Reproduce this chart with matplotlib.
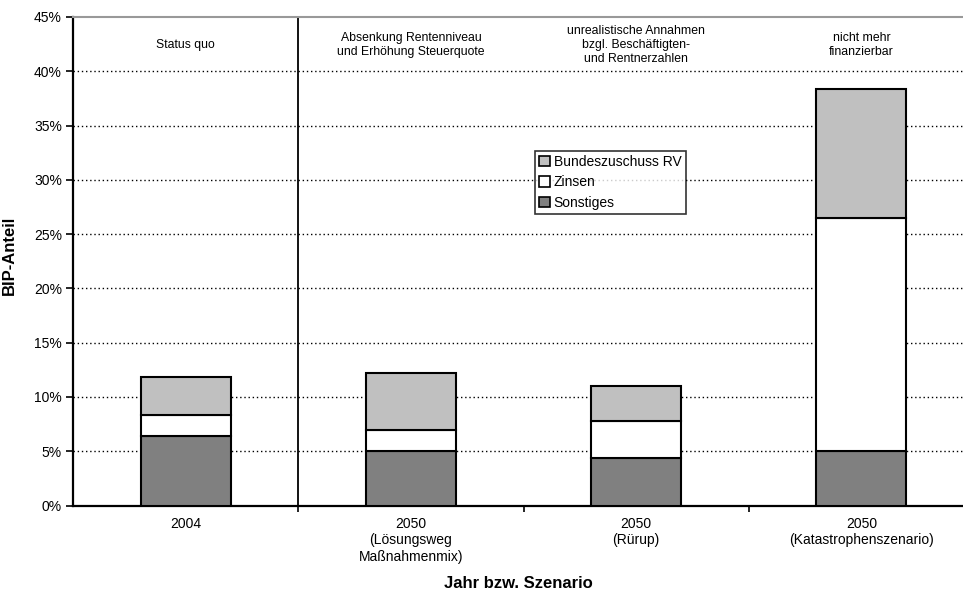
import matplotlib
matplotlib.use("Agg")
import matplotlib.pyplot as plt
from matplotlib.patches import Patch
from matplotlib.ticker import FuncFormatter, MultipleLocator

plt.rcParams['font.family'] = ['Liberation Sans', 'DejaVu Sans']

# Data (share of GDP, %)
categories = ["2004", "2050\n(Lösungsweg\nMaßnahmenmix)", "2050\n(Rürup)", "2050\n(Katastrophenszenario)"]
sonstiges = [6.4, 5.0, 4.4, 5.0]
zinsen = [1.9, 2.0, 3.35, 21.5]
bundeszuschuss = [3.5, 5.2, 3.3, 11.9]
scenario_notes = [
    "Status quo",
    "Absenkung Rentenniveau\nund Erhöhung Steuerquote",
    "unrealistische Annahmen\nbzgl. Beschäftigten-\nund Rentnerzahlen",
    "nicht mehr\nfinanzierbar",
]

fig = plt.figure(figsize=(9.63, 6.03), dpi=100)
ax = fig.add_axes([73 / 963, 97.5 / 603, 901 / 963, 488.5 / 603])

x = list(range(len(categories)))
width = 0.4
edge = dict(edgecolor="black", linewidth=1.5, zorder=3)

ax.bar(x, sonstiges, width, color="#808080", label="Sonstiges", **edge)
ax.bar(x, zinsen, width, bottom=sonstiges, color="white", label="Zinsen", **edge)
bottom2 = [a + b for a, b in zip(sonstiges, zinsen)]
ax.bar(x, bundeszuschuss, width, bottom=bottom2, color="#C0C0C0",
       label="Bundeszuschuss RV", **edge)

ax.set_xlim(-0.5, 3.5)
ax.set_ylim(0, 45)
ax.yaxis.set_major_locator(MultipleLocator(5))
ax.yaxis.set_major_formatter(FuncFormatter(lambda v, p: f"{int(round(v))}%"))

# dotted gridlines
for yv in range(5, 45, 5):
    ax.axhline(yv, color="black", linestyle=(0, (1, 2)), linewidth=1.0, zorder=1)

# separator after the status quo column
ax.axvline(0.5, color="black", linewidth=1.3, zorder=2)

ax.set_xticks(x)
ax.set_xticklabels(categories, fontsize=10, linespacing=1.25)
ax.tick_params(axis="x", length=0, pad=8)
ax.set_xticks([0.5, 1.5, 2.5], minor=True)
ax.tick_params(axis="x", which="minor", length=4, width=1.2, direction="out")
ax.tick_params(axis="y", labelsize=10, length=5, width=1.2, direction="out", pad=3)

ax.spines["right"].set_visible(False)
ax.spines["top"].set_color("#999999")
ax.spines["top"].set_linewidth(1.5)
ax.spines["left"].set_linewidth(1.6)
ax.spines["bottom"].set_linewidth(1.6)

fig.text(9 / 963, 1 - 255 / 603, "BIP-Anteil", fontsize=12, fontweight="bold",
         rotation=90, ha="center", va="center")
fig.text(518 / 963, 1 - 583 / 603, "Jahr bzw. Szenario", fontsize=12, fontweight="bold",
         ha="center", va="center")

for xi, note in zip(x, scenario_notes):
    ax.text(xi, 42.4, note, ha="center", va="center", fontsize=8.8, linespacing=1.2)

handles = [Patch(facecolor="#C0C0C0", edgecolor="black", linewidth=1.2, label="Bundeszuschuss RV"),
           Patch(facecolor="white", edgecolor="black", linewidth=1.2, label="Zinsen"),
           Patch(facecolor="#808080", edgecolor="black", linewidth=1.2, label="Sonstiges")]
leg = ax.legend(handles=handles, loc="upper left", bbox_to_anchor=((535 - 73) / 901, (505.5 - 151) / 488.5),
                fontsize=10, frameon=True, fancybox=False, edgecolor="black",
                handlelength=0.75, handleheight=0.75, handletextpad=0.3, borderpad=0.3,
                labelspacing=0.45, borderaxespad=0)
leg.get_frame().set_linewidth(1.2)
leg.set_zorder(5)

fig.savefig("out.png", dpi=100)
